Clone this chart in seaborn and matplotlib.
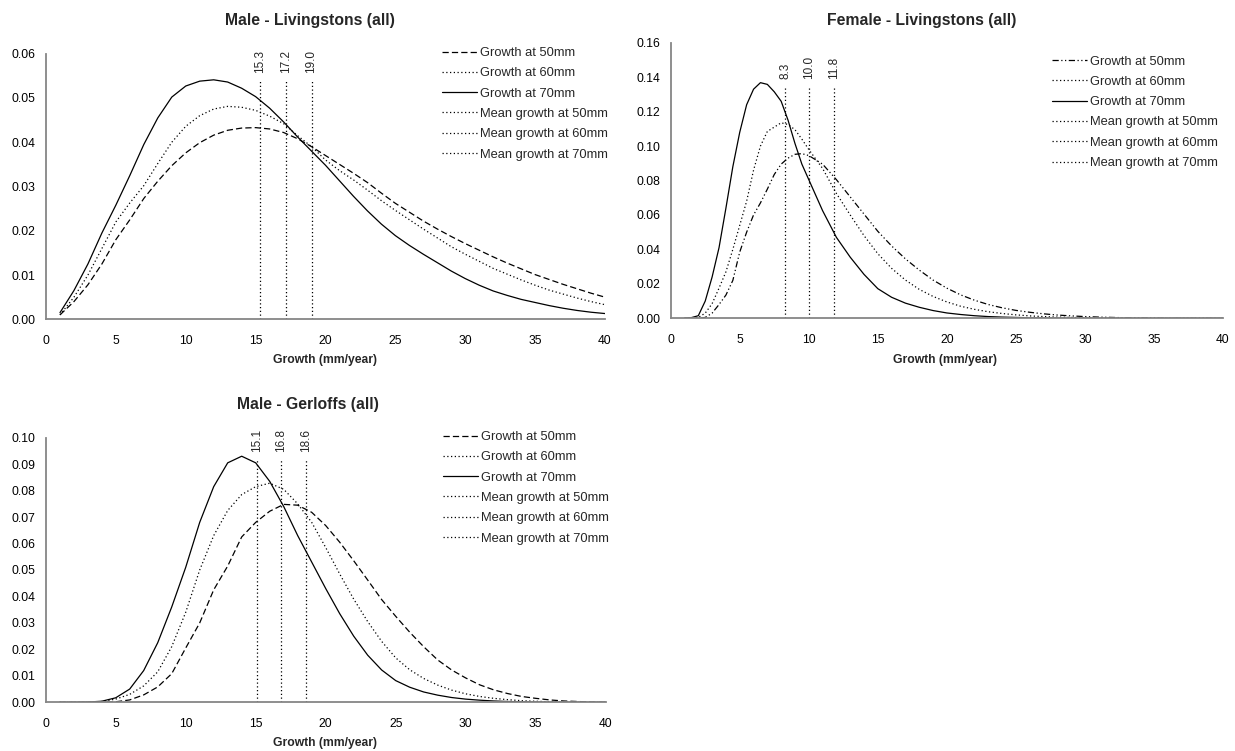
import matplotlib
matplotlib.use("Agg")
import matplotlib.pyplot as plt
from matplotlib.ticker import FormatStrFormatter, MultipleLocator
import pandas as pd
import seaborn as sns

sns.set_style("white")
plt.rcParams["font.family"] = ["Liberation Sans", "DejaVu Sans"]

FIG_W, FIG_H = 1235, 751

# ---------------- Male - Livingstons (all) ----------------
ml_growth = list(range(1, 41))
ml_50 = [0.0010, 0.0040, 0.0078, 0.0125, 0.0180, 0.0225, 0.0273, 0.0312, 0.0347, 0.0376,
         0.0399, 0.0416, 0.0427, 0.0432, 0.0433, 0.0430, 0.0422, 0.0408, 0.0390, 0.0370,
         0.0350, 0.0330, 0.0309, 0.0285, 0.0262, 0.0242, 0.0222, 0.0204, 0.0187, 0.0171,
         0.0156, 0.0141, 0.0127, 0.0114, 0.0101, 0.0090, 0.0079, 0.0069, 0.0059, 0.0050]
ml_60 = [0.0010, 0.0050, 0.0100, 0.0160, 0.0220, 0.0263, 0.0302, 0.0352, 0.0400, 0.0436,
         0.0460, 0.0475, 0.0481, 0.0479, 0.0472, 0.0459, 0.0442, 0.0415, 0.0390, 0.0360,
         0.0336, 0.0315, 0.0292, 0.0268, 0.0246, 0.0225, 0.0204, 0.0184, 0.0164, 0.0147,
         0.0131, 0.0115, 0.0102, 0.0089, 0.0077, 0.0066, 0.0057, 0.0048, 0.0040, 0.0033]
ml_70 = [0.0015, 0.0065, 0.0125, 0.0195, 0.0258, 0.0325, 0.0395, 0.0455, 0.0502, 0.0527,
         0.0538, 0.0541, 0.0536, 0.0522, 0.0503, 0.0477, 0.0446, 0.0412, 0.0380, 0.0348,
         0.0313, 0.0278, 0.0245, 0.0215, 0.0189, 0.0167, 0.0147, 0.0128, 0.0109, 0.0092,
         0.0077, 0.0064, 0.0054, 0.0045, 0.0038, 0.0031, 0.0025, 0.0020, 0.0016, 0.0013]
ml_means = [19.0, 17.2, 15.3]
ml_mean_top = 0.054

# ---------------- Female - Livingstons (all) ----------------
fl_growth = [1, 1.5, 2, 2.5, 3, 3.5, 4, 4.5, 5, 5.5, 6, 6.5, 7, 7.5, 8, 8.5, 9, 9.5, 10,
             11, 12, 13, 14, 15, 16, 17, 18, 19, 20, 21, 22, 23, 24, 25, 26, 27, 28, 29, 30,
             31, 32, 33, 34, 35, 36, 37, 38, 39, 40]
fl_50 = [0.0, 0.0, 0.0, 0.0005, 0.0030, 0.0080, 0.0135, 0.0220, 0.0385, 0.0500, 0.0600,
         0.0670, 0.0750, 0.0835, 0.0895, 0.0930, 0.0952, 0.0956, 0.0945,
         0.0895, 0.0805, 0.0705, 0.0605, 0.0505, 0.0420, 0.0345, 0.0280, 0.0222, 0.0175,
         0.0136, 0.0105, 0.0080, 0.0061, 0.0046, 0.0035, 0.0026, 0.0019, 0.0014, 0.0010,
         0.0007, 0.0005, 0.0003, 0.0002, 0.0001, 0.0, 0.0, 0.0, 0.0, 0.0]
fl_60 = [0.0, 0.0, 0.0005, 0.0030, 0.0085, 0.0175, 0.0270, 0.0400, 0.0540, 0.0680, 0.0860,
         0.1000, 0.1085, 0.1110, 0.1135, 0.1125, 0.1095, 0.1040, 0.0980,
         0.0870, 0.0725, 0.0600, 0.0480, 0.0375, 0.0290, 0.0222, 0.0168, 0.0127, 0.0095,
         0.0070, 0.0052, 0.0038, 0.0028, 0.0020, 0.0014, 0.0010, 0.0007, 0.0005, 0.0003,
         0.0002, 0.0001, 0.0, 0.0, 0.0, 0.0, 0.0, 0.0, 0.0, 0.0]
fl_70 = [0.0, 0.0004, 0.0015, 0.0100, 0.0240, 0.0410, 0.0640, 0.0880, 0.1080, 0.1240, 0.1330,
         0.1368, 0.1358, 0.1315, 0.1260, 0.1150, 0.1015, 0.0895, 0.0805,
         0.0625, 0.0470, 0.0355, 0.0255, 0.0172, 0.0122, 0.0088, 0.0064, 0.0045, 0.0031,
         0.0022, 0.0015, 0.0010, 0.0007, 0.0005, 0.0003, 0.0002, 0.0001, 0.0, 0.0,
         0.0, 0.0, 0.0, 0.0, 0.0, 0.0, 0.0, 0.0, 0.0, 0.0]
fl_means = [11.8, 10.0, 8.3]
fl_mean_top = 0.135

# ---------------- Male - Gerloffs (all) ----------------
mg_growth = list(range(1, 41))
mg_50 = [0.0, 0.0, 0.0, 0.0, 0.0002, 0.0009, 0.0028, 0.0058, 0.0108, 0.0205,
         0.0300, 0.0425, 0.0515, 0.0625, 0.0680, 0.0722, 0.0748, 0.0745, 0.0718, 0.0668,
         0.0605, 0.0535, 0.0462, 0.0388, 0.0325, 0.0265, 0.0210, 0.0160, 0.0122, 0.0092,
         0.0066, 0.0047, 0.0033, 0.0022, 0.0015, 0.0009, 0.0005, 0.0003, 0.0001, 0.0]
mg_60 = [0.0, 0.0, 0.0, 0.0003, 0.0012, 0.0030, 0.0062, 0.0115, 0.0210, 0.0340,
         0.0500, 0.0630, 0.0725, 0.0785, 0.0815, 0.0828, 0.0805, 0.0750, 0.0680, 0.0585,
         0.0485, 0.0390, 0.0305, 0.0230, 0.0168, 0.0123, 0.0090, 0.0065, 0.0046, 0.0032,
         0.0022, 0.0015, 0.0010, 0.0006, 0.0004, 0.0002, 0.0001, 0.0, 0.0, 0.0]
mg_70 = [0.0, 0.0, 0.0001, 0.0004, 0.0017, 0.0050, 0.0120, 0.0225, 0.0360, 0.0510,
         0.0680, 0.0815, 0.0905, 0.0930, 0.0905, 0.0835, 0.0740, 0.0630, 0.0530, 0.0430,
         0.0335, 0.0250, 0.0178, 0.0122, 0.0082, 0.0057, 0.0039, 0.0027, 0.0018, 0.0012,
         0.0008, 0.0005, 0.0003, 0.0002, 0.0001, 0.0, 0.0, 0.0, 0.0, 0.0]
mg_means = [18.6, 16.8, 15.1]
mg_mean_top = 0.092

sizes = ["50mm", "60mm", "70mm"]

DASHED = (0, (5, 2.5))
DOTTED = (0, (1, 2))
DASH_DOT_DOT = (0, (5, 2, 1, 2, 1, 2))
SOLID = "-"
AXIS_GREY = "#868686"


def px_rect(left, top, right, bottom):
    return [left / FIG_W, 1 - bottom / FIG_H, (right - left) / FIG_W, (bottom - top) / FIG_H]


def draw_panel(fig, rect, title, title_xy, xlabel_xy, growth, curves, styles,
               means, mean_top, ymax, ystep, legend_xy):
    ax = fig.add_axes(px_rect(*rect))
    for size, values, style in zip(sizes, curves, styles):
        df = pd.DataFrame({"growth": growth, "density": values})
        sns.lineplot(data=df, x="growth", y="density", ax=ax, color="black",
                     linewidth=0.9, linestyle=style, label=f"Growth at {size}",
                     estimator=None)
    for size, m in zip(sizes, means):
        sns.lineplot(x=[m, m], y=[0.0, mean_top], ax=ax, color="black", linewidth=0.9,
                     linestyle=DOTTED, label=f"Mean growth at {size}",
                     estimator=None, sort=False)
        ax.annotate(f"{m:.1f}", (m, mean_top), xytext=(0, 5), textcoords="offset points",
                    rotation=90, ha="center", va="bottom", fontsize=8.5)

    ax.set_xlim(0, 40)
    ax.set_ylim(0, ymax)
    ax.xaxis.set_major_locator(MultipleLocator(5))
    ax.yaxis.set_major_locator(MultipleLocator(ystep))
    ax.yaxis.set_major_formatter(FormatStrFormatter("%.2f"))
    ax.set_xlabel("")
    ax.set_ylabel("")
    for side in ("top", "right"):
        ax.spines[side].set_visible(False)
    for side in ("left", "bottom"):
        ax.spines[side].set_color(AXIS_GREY)
        ax.spines[side].set_linewidth(1.3)
    ax.tick_params(axis="both", direction="out", length=3.5, width=1.2, color=AXIS_GREY,
                   labelsize=8.7, labelcolor="black")
    ax.tick_params(axis="x", pad=7.5)
    ax.tick_params(axis="y", pad=4)
    ax.patch.set_alpha(0)

    handles = ax.lines[:6]
    ax.legend(handles=handles, labels=[h.get_label() for h in handles],
              loc="upper left", bbox_to_anchor=(legend_xy[0] / FIG_W, 1 - legend_xy[1] / FIG_H),
              bbox_transform=fig.transFigure, frameon=False, fontsize=9.3,
              handlelength=2.7, handletextpad=0.25, labelspacing=0.64,
              borderpad=0, borderaxespad=0)

    fig.text(title_xy[0] / FIG_W, 1 - title_xy[1] / FIG_H, title, ha="center", va="center",
             fontsize=11.3, fontweight="bold")
    fig.text(xlabel_xy[0] / FIG_W, 1 - xlabel_xy[1] / FIG_H, "Growth (mm/year)",
             ha="center", va="center", fontsize=8.7, fontweight="bold")
    return ax


fig = plt.figure(figsize=(FIG_W / 100, FIG_H / 100), dpi=100)
fig.patch.set_facecolor("white")

draw_panel(fig, (46, 53.7, 605, 319.3), "Male - Livingstons (all)", (310, 20), (325, 360),
           ml_growth, [ml_50, ml_60, ml_70], [DASHED, DOTTED, SOLID],
           ml_means, ml_mean_top, 0.06, 0.01, (442, 47))

draw_panel(fig, (670.7, 42.7, 1223, 318.3), "Female - Livingstons (all)", (922, 20), (945, 360),
           fl_growth, [fl_50, fl_60, fl_70], [DASH_DOT_DOT, DOTTED, SOLID],
           fl_means, fl_mean_top, 0.16, 0.02, (1052, 55.5))

draw_panel(fig, (45.7, 437.7, 605.7, 702.3), "Male - Gerloffs (all)", (308, 404), (325, 743),
           mg_growth, [mg_50, mg_60, mg_70], [DASHED, DOTTED, SOLID],
           mg_means, mg_mean_top, 0.10, 0.01, (443, 431))

fig.savefig("out.png", dpi=100)
